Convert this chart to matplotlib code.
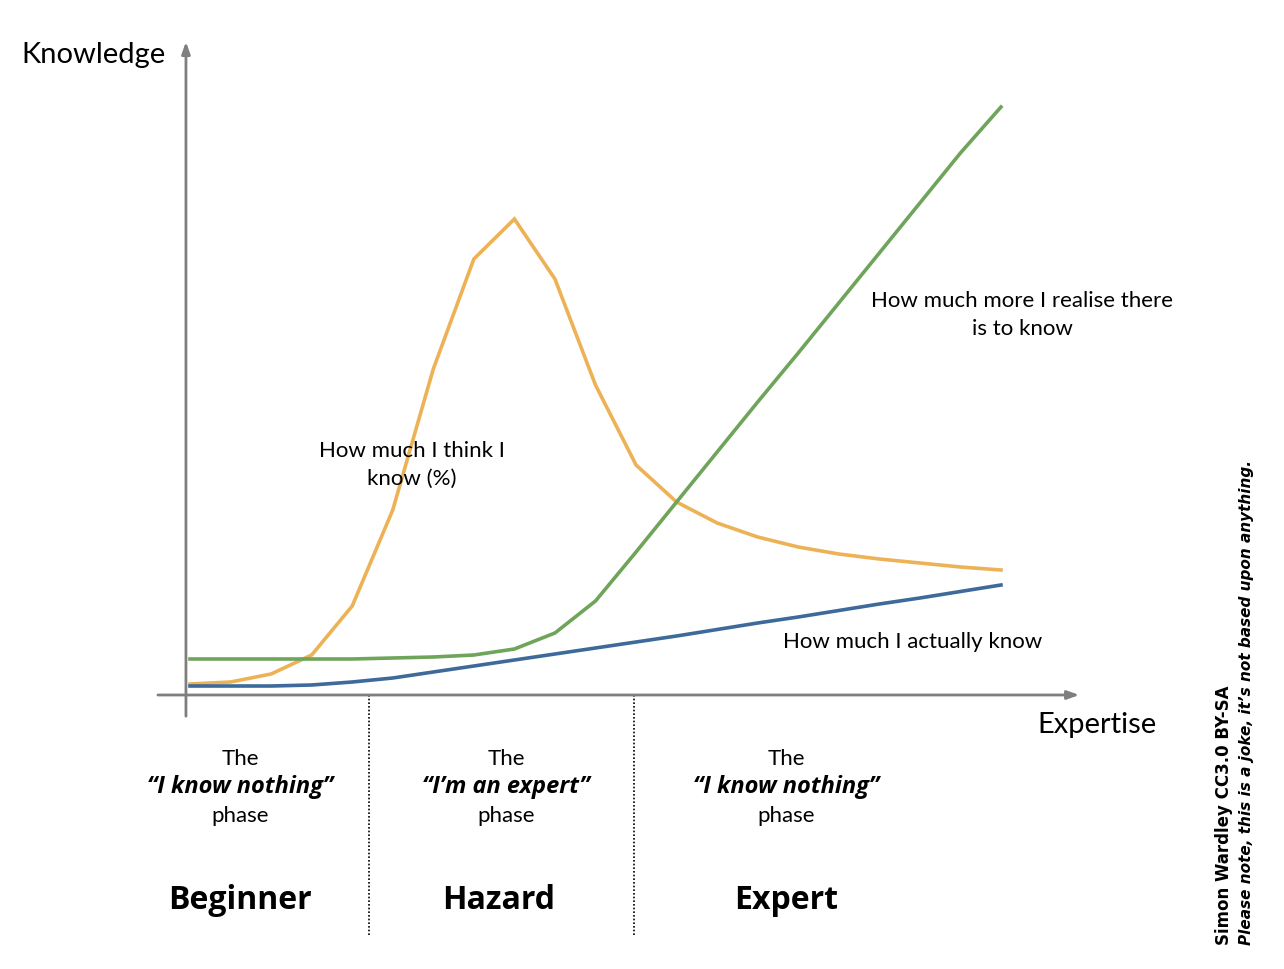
import matplotlib
matplotlib.use("Agg")
import matplotlib.pyplot as plt

# expertise steps 0..20, knowledge in arbitrary units (0 = x axis)
steps = list(range(21))
think = [11, 13, 21, 40, 89, 185, 326, 436, 476, 416, 310, 230, 193, 172, 158, 148, 141, 136, 132, 128, 125]
realise = [36, 36, 36, 36, 36, 37, 38, 40, 46, 62, 94, 143, 193, 243, 293, 342, 392, 442, 492, 542, 588]
actual = [9, 9, 9, 10, 13, 17, 23, 29, 35, 41, 47, 53, 59, 65.5, 72, 78, 84.5, 91, 97, 103.5, 110]

phase_edges = [4.41, 10.95]
phase_centres = [1.23, 7.79, 14.7]
phase_quotes = ["\u201cI know nothing\u201d", "\u201cI\u2019m an expert\u201d", "\u201cI know nothing\u201d"]
phase_names = ["Beginner", "Hazard", "Expert"]
name_centres = [1.23, 7.6, 14.7]

orange = "#EDB256"
green = "#6EA55A"
blue = "#3D6A9A"
grey = "#7F7F7F"

plt.rcParams["font.family"] = ["Lato", "DejaVu Sans"]

fig = plt.figure(figsize=(12.84, 9.7), dpi=100)
ax = fig.add_axes([0, 0, 1, 1])
ax.set_xlim(-4.686, 26.98)
ax.set_ylim(-274, 696)
ax.axis("off")

# axes with arrows
ax.annotate("", xy=(-0.1, 656), xytext=(-0.1, -24),
            arrowprops=dict(arrowstyle="-|>,head_width=0.25,head_length=0.7", color=grey, lw=2))
ax.annotate("", xy=(22.0, 0), xytext=(-0.86, 0),
            arrowprops=dict(arrowstyle="-|>,head_width=0.25,head_length=0.7", color=grey, lw=2))

ax.plot(steps, think, color=orange, lw=2.6, solid_joinstyle="miter")
ax.plot(steps, realise, color=green, lw=2.6)
ax.plot(steps, actual, color=blue, lw=2.6)

for e in phase_edges:
    ax.plot([e, e], [0, -241], color="black", lw=1.2, linestyle=(0, (1, 1.2)))

ax.text(-4.15, 641, "Knowledge", fontsize=21, va="center", ha="left")
ax.text(20.9, -29, "Expertise", fontsize=21, va="center", ha="left")

ax.text(5.47, 231, "How much I think I\nknow (%)", fontsize=16, ha="center", va="center",
        linespacing=1.45)
ax.text(20.52, 381, "How much more I realise there\nis to know", fontsize=16, ha="center",
        va="center", linespacing=1.45)
ax.text(17.83, 54, "How much I actually know", fontsize=16, ha="center", va="center")

for c, q, c2, n in zip(phase_centres, phase_quotes, name_centres, phase_names):
    ax.text(c, -63, "The", fontsize=16, ha="center", va="center")
    ax.text(c, -91, q, fontsize=17, ha="center", va="center",
            fontweight="bold", style="italic", family=["Open Sans", "DejaVu Sans"])
    ax.text(c, -120, "phase", fontsize=16, ha="center", va="center")
    ax.text(c2, -205, n, fontsize=23, ha="center", va="center", fontweight="bold",
            family=["Open Sans", "DejaVu Sans"])

ax.text(25.5, -249, "Simon Wardley CC3.0 BY-SA", rotation=90, fontsize=12,
        fontweight="bold", family=["DejaVu Sans"], ha="center", va="bottom")
ax.text(26.05, -249, "Please note, this is a joke, it\u2019s not based upon anything.", rotation=90,
        fontsize=11, fontweight="bold", style="italic", family=["DejaVu Sans"],
        ha="center", va="bottom")

fig.savefig("out.png", dpi=100, facecolor="white")
